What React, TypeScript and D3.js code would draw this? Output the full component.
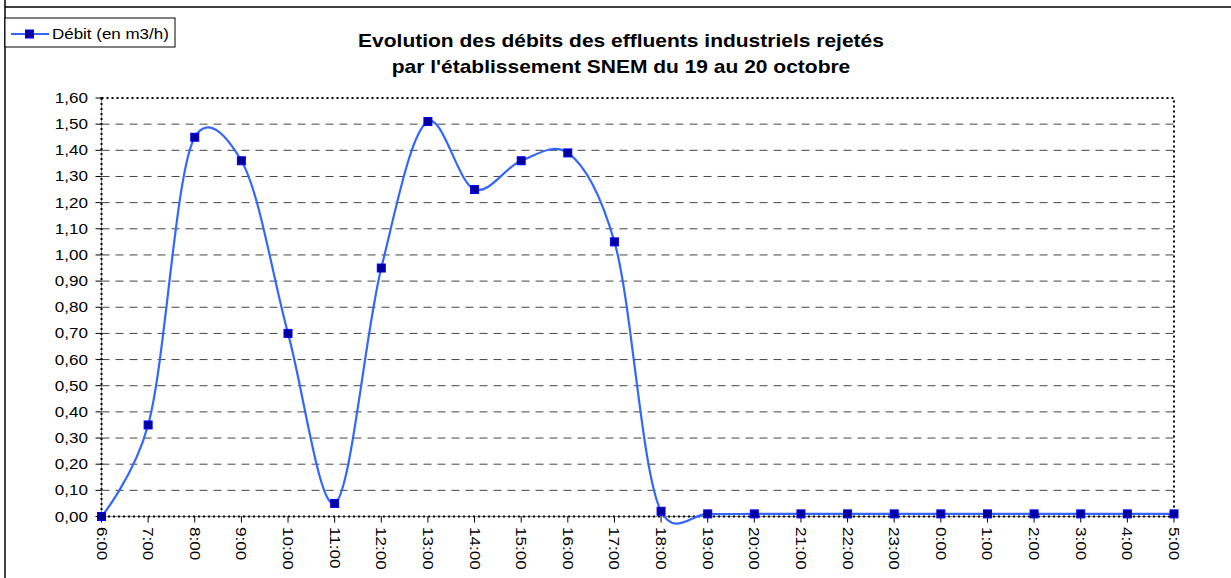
import { useMemo } from "react";
import * as d3 from "d3";

// --- data ---
const hours = [
  "6:00", "7:00", "8:00", "9:00", "10:00", "11:00", "12:00", "13:00",
  "14:00", "15:00", "16:00", "17:00", "18:00", "19:00", "20:00", "21:00",
  "22:00", "23:00", "0:00", "1:00", "2:00", "3:00", "4:00", "5:00",
];
const debits = [
  0.0, 0.35, 1.45, 1.36, 0.7, 0.05, 0.95, 1.51,
  1.25, 1.36, 1.39, 1.05, 0.02, 0.01, 0.01, 0.01,
  0.01, 0.01, 0.01, 0.01, 0.01, 0.01, 0.01, 0.01,
];
const yTicks = [0, 0.1, 0.2, 0.3, 0.4, 0.5, 0.6, 0.7, 0.8, 0.9, 1.0, 1.1, 1.2, 1.3, 1.4, 1.5, 1.6];
const titleLines = [
  "Evolution des débits des effluents industriels rejetés",
  "par l'établissement SNEM du 19 au 20 octobre",
];
const legendLabel = "Débit (en m3/h)";

const W = 1231;
const H = 578;
const plot = { left: 101.5, right: 1174, top: 98, bottom: 516.5 };
const font = "'Liberation Sans', Arial, sans-serif";
// the original text is rendered wider than Liberation Sans at the same height
const SX = 1.22;

export default function App() {
  const x = useMemo(
    () => d3.scalePoint<string>().domain(hours).range([plot.left, plot.right]),
    []
  );
  const y = useMemo(
    () => d3.scaleLinear().domain([0, 1.6]).range([plot.bottom, plot.top]),
    []
  );

  // somewhere between uniform and centripetal, close to Excel's smoothing
  const line = d3
    .line<number>()
    .x((_, i) => x(hours[i]) as number)
    .y(d => y(d))
    .curve(d3.curveCatmullRom.alpha(0.2));

  const fmt = (v: number) => v.toFixed(2).replace(".", ",");

  return (
    <svg
      width={W}
      height={H}
      style={{ position: "absolute", left: 0, top: 0, background: "#fff" }}
      fontFamily={font}
    >
      {/* chart frame (cut off at right/bottom) */}
      <line x1={5} y1={0} x2={5} y2={H} stroke="#000" strokeWidth={1.5} />
      <line x1={5} y1={7} x2={W} y2={7} stroke="#000" strokeWidth={1.5} />

      {/* legend */}
      <rect x={5} y={18} width={170} height={29} fill="#fff" stroke="#000" strokeWidth={1} />
      <line x1={11} y1={34} x2={49} y2={34} stroke="#3366ff" strokeWidth={2.2} />
      <rect x={25.5} y={30} width={8} height={8} fill="#000099" stroke="#0000ff" strokeWidth={1} />
      <text transform={`translate(52,39) scale(1.17,1)`} fontSize={14.5} fill="#000">
        {legendLabel}
      </text>

      {/* title */}
      {titleLines.map((t, i) => (
        <text
          key={i}
          transform={`translate(621,${47 + i * 26}) scale(1.2,1)`}
          fontSize={17.5}
          fontWeight="bold"
          textAnchor="middle"
          fill="#000"
        >
          {t}
        </text>
      ))}

      {/* gridlines */}
      {yTicks.slice(1, -1).map(t => (
        <line
          key={t}
          x1={plot.left}
          x2={plot.right}
          y1={y(t)}
          y2={y(t)}
          stroke="#444"
          strokeWidth={1}
          strokeDasharray="8,6"
        />
      ))}

      {/* axis lines */}
      <line x1={plot.left} x2={plot.right} y1={plot.bottom} y2={plot.bottom} stroke="#888" strokeWidth={1} />
      <line x1={plot.left} x2={plot.left} y1={plot.top} y2={plot.bottom} stroke="#888" strokeWidth={1} />

      {/* plot border dotted */}
      <rect
        x={plot.left}
        y={plot.top}
        width={plot.right - plot.left}
        height={plot.bottom - plot.top}
        fill="none"
        stroke="#000"
        strokeWidth={2}
        strokeDasharray="2,3"
      />

      {/* y ticks */}
      {yTicks.map(t => (
        <g key={t}>
          <line x1={plot.left - 6} x2={plot.left} y1={y(t)} y2={y(t)} stroke="#000" strokeWidth={1} />
          <text
            transform={`translate(88,${y(t) + 5}) scale(${SX},1)`}
            fontSize={14}
            textAnchor="end"
            fill="#000"
          >
            {fmt(t)}
          </text>
        </g>
      ))}

      {/* x ticks */}
      {hours.map(h => {
        const px = x(h) as number;
        return (
          <g key={h}>
            <line x1={px} x2={px} y1={plot.bottom} y2={plot.bottom + 6} stroke="#000" strokeWidth={1} />
            <text
              transform={`translate(${px - 5},${527}) rotate(90) scale(${SX},1)`}
              fontSize={14}
              fill="#000"
            >
              {h}
            </text>
          </g>
        );
      })}

      {/* series */}
      <path d={line(debits) ?? ""} fill="none" stroke="#3366ff" strokeWidth={2.2} />
      {debits.map((d, i) => (
        <rect
          key={i}
          x={(x(hours[i]) as number) - 4}
          y={y(d) - 4}
          width={8}
          height={8}
          fill="#000099"
          stroke="#0000ff"
          strokeWidth={1}
        />
      ))}
    </svg>
  );
}
